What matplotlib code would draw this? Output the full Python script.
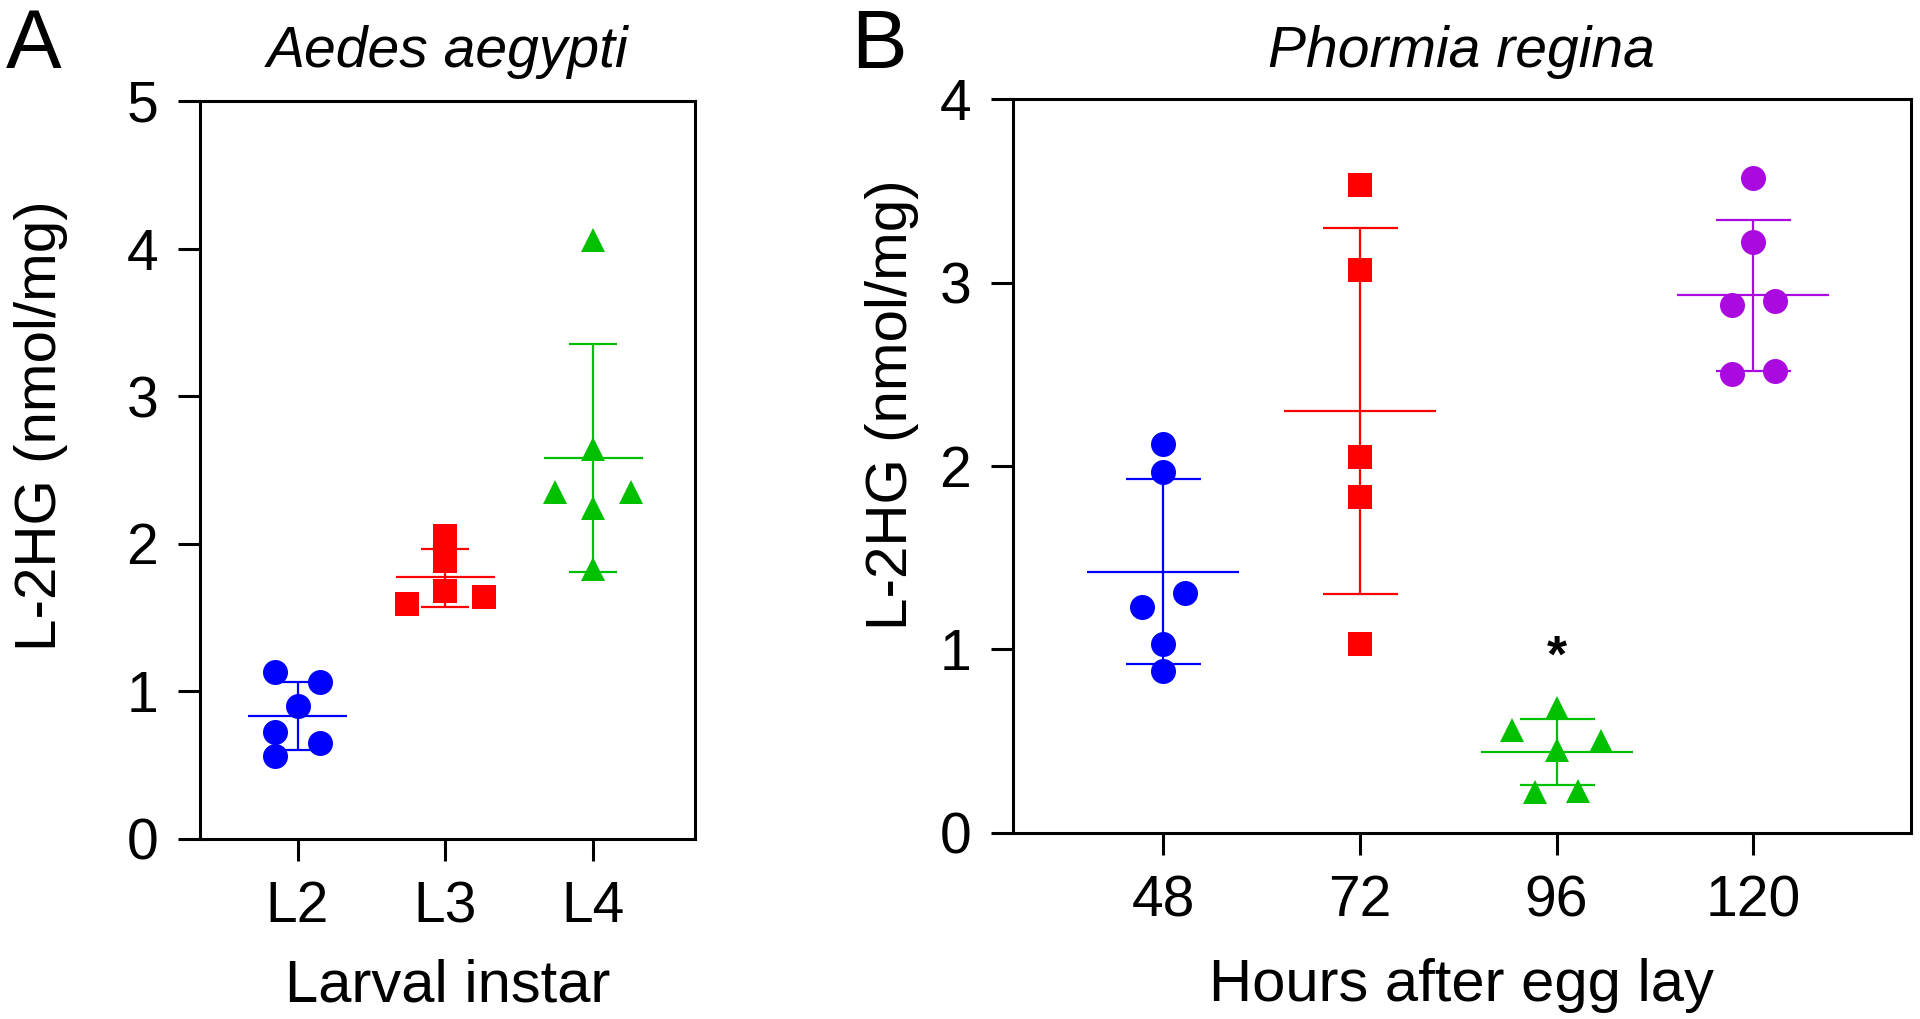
"""Two-panel L-2HG scatter: Aedes aegypti instars and Phormia regina time course."""

import matplotlib
matplotlib.use("Agg")
import matplotlib.pyplot as plt

plt.rcParams["font.family"] = ["Liberation Sans", "DejaVu Sans"]

W, H = 1920, 1019

# ---- data ----
aedes_cats = ["L2", "L3", "L4"]
aedes_l2 = [1.13, 1.06, 0.90, 0.72, 0.65, 0.56]
aedes_l3 = [2.05, 1.88, 1.68, 1.59, 1.64]
aedes_l4 = [4.06, 2.64, 2.35, 2.35, 2.24, 1.83]
aedes_mean = [0.83, 1.77, 2.58]
aedes_err_hi = [1.06, 1.96, 3.35]
aedes_err_lo = [0.60, 1.57, 1.81]

phormia_cats = ["48", "72", "96", "120"]
phormia_48 = [2.12, 1.97, 1.31, 1.23, 1.03, 0.88]
phormia_72 = [3.53, 3.07, 2.05, 1.83, 1.03]
phormia_96 = [0.68, 0.56, 0.50, 0.45, 0.22, 0.23]
phormia_120 = [3.57, 3.22, 2.88, 2.90, 2.50, 2.52]
phormia_mean = [1.42, 2.30, 0.44, 2.93]
phormia_err_hi = [1.93, 3.30, 0.62, 3.34]
phormia_err_lo = [0.92, 1.30, 0.26, 2.52]

# horizontal scatter offsets (category units) for each point
aedes_jitter = [
    [-0.15, 0.15, 0.0, -0.15, 0.15, -0.15],
    [0.0, 0.0, 0.0, -0.26, 0.26],
    [0.0, 0.0, -0.26, 0.26, 0.0, 0.0],
]
phormia_jitter = [
    [0.0, 0.0, 0.11, -0.11, 0.0, 0.0],
    [0.0, 0.0, 0.0, 0.0, 0.0],
    [0.0, -0.225, 0.225, 0.0, -0.11, 0.11],
    [0.0, 0.0, -0.11, 0.11, -0.11, 0.11],
]

BLUE, RED, GREEN, PURPLE = "#0000ff", "#ff0000", "#00c000", "#aa0ae0"
FS = 41
LW = 2.2


def px_rect(left, top, right, bottom):
    return [left / W, (H - bottom) / H, (right - left) / W, (bottom - top) / H]


def style_axes(ax):
    for sp in ax.spines.values():
        sp.set_linewidth(LW)
        sp.set_color("black")
    ax.tick_params(direction="out", length=16, width=LW, pad=14,
                   labelsize=FS, colors="black")


def draw_group(ax, x, values, jitter, color, marker, mean, hi, lo,
               half_mean, capsize):
    ax.errorbar([x], [mean], yerr=[[mean - lo], [hi - mean]], fmt="none",
                ecolor=color, elinewidth=1.6, capsize=capsize,
                capthick=1.6, zorder=2)
    ax.hlines(mean, x - half_mean, x + half_mean, colors=color,
              linewidth=1.6, zorder=2)
    xs = [x + j for j in jitter]
    ms = 18 if marker == "o" else 17.3
    ax.plot(xs, values, linestyle="none", marker=marker, markersize=ms,
            color=color, markeredgewidth=0, zorder=3)


fig = plt.figure(figsize=(W / 100, H / 100), dpi=100)

# ---- panel A ----
axA = fig.add_axes(px_rect(200, 101, 695, 838.5))
style_axes(axA)
a_groups = [aedes_l2, aedes_l3, aedes_l4]
a_style = [(BLUE, "o"), (RED, "s"), (GREEN, "^")]
for i, (vals, (c, m)) in enumerate(zip(a_groups, a_style)):
    draw_group(axA, i, vals, aedes_jitter[i], c, m, aedes_mean[i],
               aedes_err_hi[i], aedes_err_lo[i], 0.335, 17.5)
axA.set_xlim(-0.66, 2.69)
axA.set_ylim(0, 5)
axA.set_xticks(range(len(aedes_cats)))
axA.set_xticklabels(aedes_cats)
axA.set_yticks(range(0, 6))

# ---- panel B ----
axB = fig.add_axes(px_rect(1012.7, 99.3, 1910.7, 832.7))
style_axes(axB)
b_groups = [phormia_48, phormia_72, phormia_96, phormia_120]
b_style = [(BLUE, "o"), (RED, "s"), (GREEN, "^"), (PURPLE, "o")]
for i, (vals, (c, m)) in enumerate(zip(b_groups, b_style)):
    draw_group(axB, i, vals, phormia_jitter[i], c, m, phormia_mean[i],
               phormia_err_hi[i], phormia_err_lo[i], 0.386, 27)
axB.set_xlim(-0.765, 3.80)
axB.set_ylim(0, 4)
axB.set_xticks(range(len(phormia_cats)))
axB.set_xticklabels(phormia_cats)
axB.set_yticks(range(0, 5))
axB.text(2, 0.82, "*", ha="center", va="bottom", fontsize=37,
         fontweight="bold", color="black")

# ---- text ----
def ftext(x, y, s, **kw):
    fig.text(x / W, 1 - y / H, s, **kw)

ftext(6, 68, "A", fontsize=60, ha="left", va="baseline")
ftext(851, 68, "B", fontsize=60, ha="left", va="baseline")
ftext(447.5, 67, "Aedes aegypti", fontsize=FS, style="italic",
      ha="center", va="baseline")
ftext(1461.7, 67, "Phormia regina", fontsize=FS, style="italic",
      ha="center", va="baseline")
ftext(447.5, 1001, "Larval instar", fontsize=43, ha="center", va="baseline")
ftext(1461.7, 1001, "Hours after egg lay", fontsize=43, ha="center",
      va="baseline")
ftext(41, 426, "L-2HG (nmol/mg)", fontsize=42, rotation=90,
      ha="center", va="center")
ftext(892, 405, "L-2HG (nmol/mg)", fontsize=42, rotation=90,
      ha="center", va="center")

fig.savefig("out.png", dpi=100)
